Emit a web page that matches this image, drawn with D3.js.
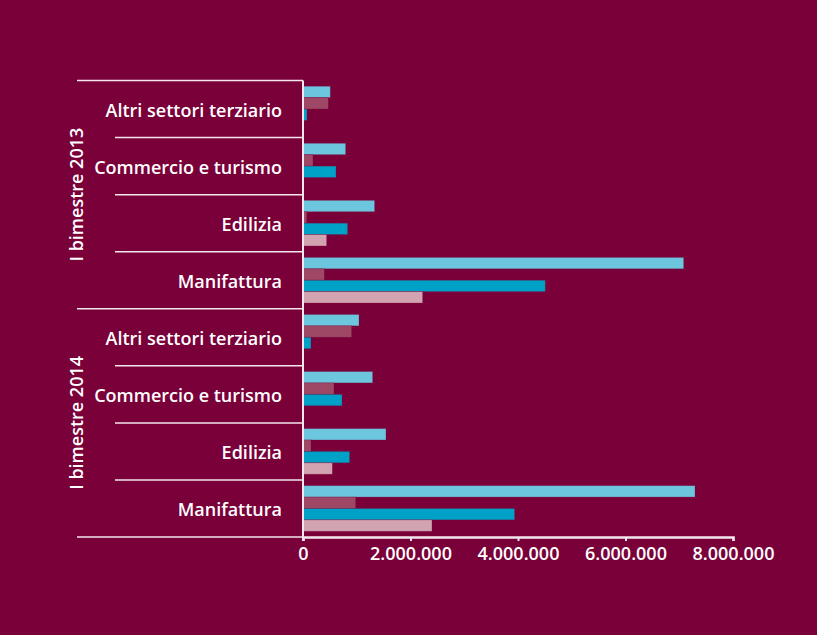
<!DOCTYPE html>
<html>
<head>
<meta charset="utf-8">
<script src="https://cdn.jsdelivr.net/npm/d3@7/dist/d3.min.js"></script>
<style>
  html, body { margin: 0; padding: 0; background: #7a0039; }
  svg { display: block; }
  text { font-family: "Open Sans", "Noto Sans", sans-serif; font-weight: 600; fill: #ffffff; }
</style>
</head>
<body>
<svg id="chart" width="817" height="635"></svg>
<script>
// Periods (outer groups) and sectors (inner rows), top to bottom
const periods = ["I bimestre 2013", "I bimestre 2014"];
const sectors = ["Altri settori terziario", "Commercio e turismo", "Edilizia", "Manifattura"];

// Four series per sector row, drawn top to bottom inside each row
const seriesKeys = ["s1", "s2", "s3", "s4"];
const seriesColors = ["#6cc6dd", "#9f4866", "#00a1c6", "#d2a4b1"];

// Values per period, in sector order
const s1_2013 = [508000, 794000, 1333000, 7083000];
const s2_2013 = [471000, 186000, 70000, 397000];
const s3_2013 = [74000, 614000, 831000, 4508000];
const s4_2013 = [0, 0, 440000, 2226000];

const s1_2014 = [1042000, 1296000, 1544000, 7293000];
const s2_2014 = [905000, 577000, 149000, 980000];
const s3_2014 = [149000, 726000, 868000, 3938000];
const s4_2014 = [0, 0, 546000, 2400000];

const xTicks = [0, 2000000, 4000000, 6000000, 8000000];

const valuesByPeriod = {
  "I bimestre 2013": [s1_2013, s2_2013, s3_2013, s4_2013],
  "I bimestre 2014": [s1_2014, s2_2014, s3_2014, s4_2014]
};

function drawChart() {
  // One row per (period, sector)
  const rows = [];
  periods.forEach(function (p) {
    sectors.forEach(function (s, i) {
      rows.push({
        id: p + "|" + s, period: p, sector: s,
        values: seriesKeys.map(function (k, j) {
          return { key: k, color: seriesColors[j], value: valuesByPeriod[p][j][i] };
        })
      });
    });
  });

  const svg = d3.select("#chart");
  const plotLeft = 303, plotRight = 733, plotTop = 80.5, plotBottom = 537;
  const lineColor = "#f3e6ec";
  const labelSize = 18;

  const x = d3.scaleLinear().domain([0, 8000000]).range([plotLeft, plotRight]);
  const y = d3.scaleBand().domain(rows.map(function (r) { return r.id; }))
    .range([plotTop, plotBottom]).padding(0);
  const yInner = d3.scaleBand().domain(seriesKeys).range([0, y.bandwidth()])
    .paddingOuter(0.5).paddingInner(0);

  // Bars
  const rowG = svg.append("g").selectAll("g").data(rows).join("g")
    .attr("transform", function (d) { return "translate(0," + y(d.id) + ")"; });

  rowG.selectAll("rect")
    .data(function (d) { return d.values.filter(function (v) { return v.value > 0; }); })
    .join("rect")
    .attr("x", x(0))
    .attr("y", function (d) { return yInner(d.key); })
    .attr("width", function (d) { return x(d.value) - x(0); })
    .attr("height", yInner.bandwidth())
    .attr("fill", function (d) { return d.color; })
    .attr("stroke", "#7a0039")
    .attr("stroke-opacity", 0.35)
    .attr("stroke-width", 0.8);

  // Row separators: period boundaries run further left
  const bounds = rows.map(function (r) { return y(r.id); }).concat([plotBottom]);
  svg.append("g").selectAll("line").data(bounds).join("line")
    .attr("x1", function (d, i) { return (i % sectors.length === 0) ? 77 : 115; })
    .attr("x2", plotLeft)
    .attr("y1", function (d) { return d; })
    .attr("y2", function (d) { return d; })
    .attr("stroke", lineColor).attr("stroke-width", 1.5);

  // Vertical axis line
  svg.append("line")
    .attr("x1", plotLeft).attr("x2", plotLeft)
    .attr("y1", plotTop).attr("y2", plotBottom + 4)
    .attr("stroke", lineColor).attr("stroke-width", 2);

  // X axis with Italian thousands separator
  const itLocale = d3.formatLocale({ decimal: ",", thousands: ".", grouping: [3], currency: ["", " €"] });
  const fmt = itLocale.format(",");
  const xAxis = svg.append("g")
    .attr("transform", "translate(0," + plotBottom + ")")
    .call(d3.axisBottom(x).tickValues(xTicks).tickSize(4).tickPadding(6).tickFormat(fmt));
  xAxis.select(".domain").attr("stroke", lineColor).attr("stroke-width", 2.5);
  xAxis.selectAll(".tick line").attr("stroke", lineColor).attr("stroke-width", 2);
  xAxis.selectAll(".tick text").attr("font-size", labelSize).attr("fill", "#fff")
    .attr("font-family", "'Open Sans', sans-serif").attr("font-weight", 600);

  // Sector labels
  svg.append("g").selectAll("text").data(rows).join("text")
    .attr("x", 282)
    .attr("y", function (d) { return y(d.id) + y.bandwidth() / 2 + 1; })
    .attr("text-anchor", "end")
    .attr("dominant-baseline", "central")
    .attr("font-size", labelSize)
    .text(function (d) { return d.sector; });

  // Period labels, rotated
  const groupH = y.bandwidth() * sectors.length;
  svg.append("g").selectAll("text").data(periods).join("text")
    .attr("transform", function (d, i) {
      return "translate(76," + (plotTop + groupH * i + groupH / 2) + ") rotate(-90)";
    })
    .attr("text-anchor", "middle")
    .attr("dominant-baseline", "central")
    .attr("font-size", labelSize)
    .text(function (d) { return d; });
}

drawChart();
</script>
</body>
</html>
